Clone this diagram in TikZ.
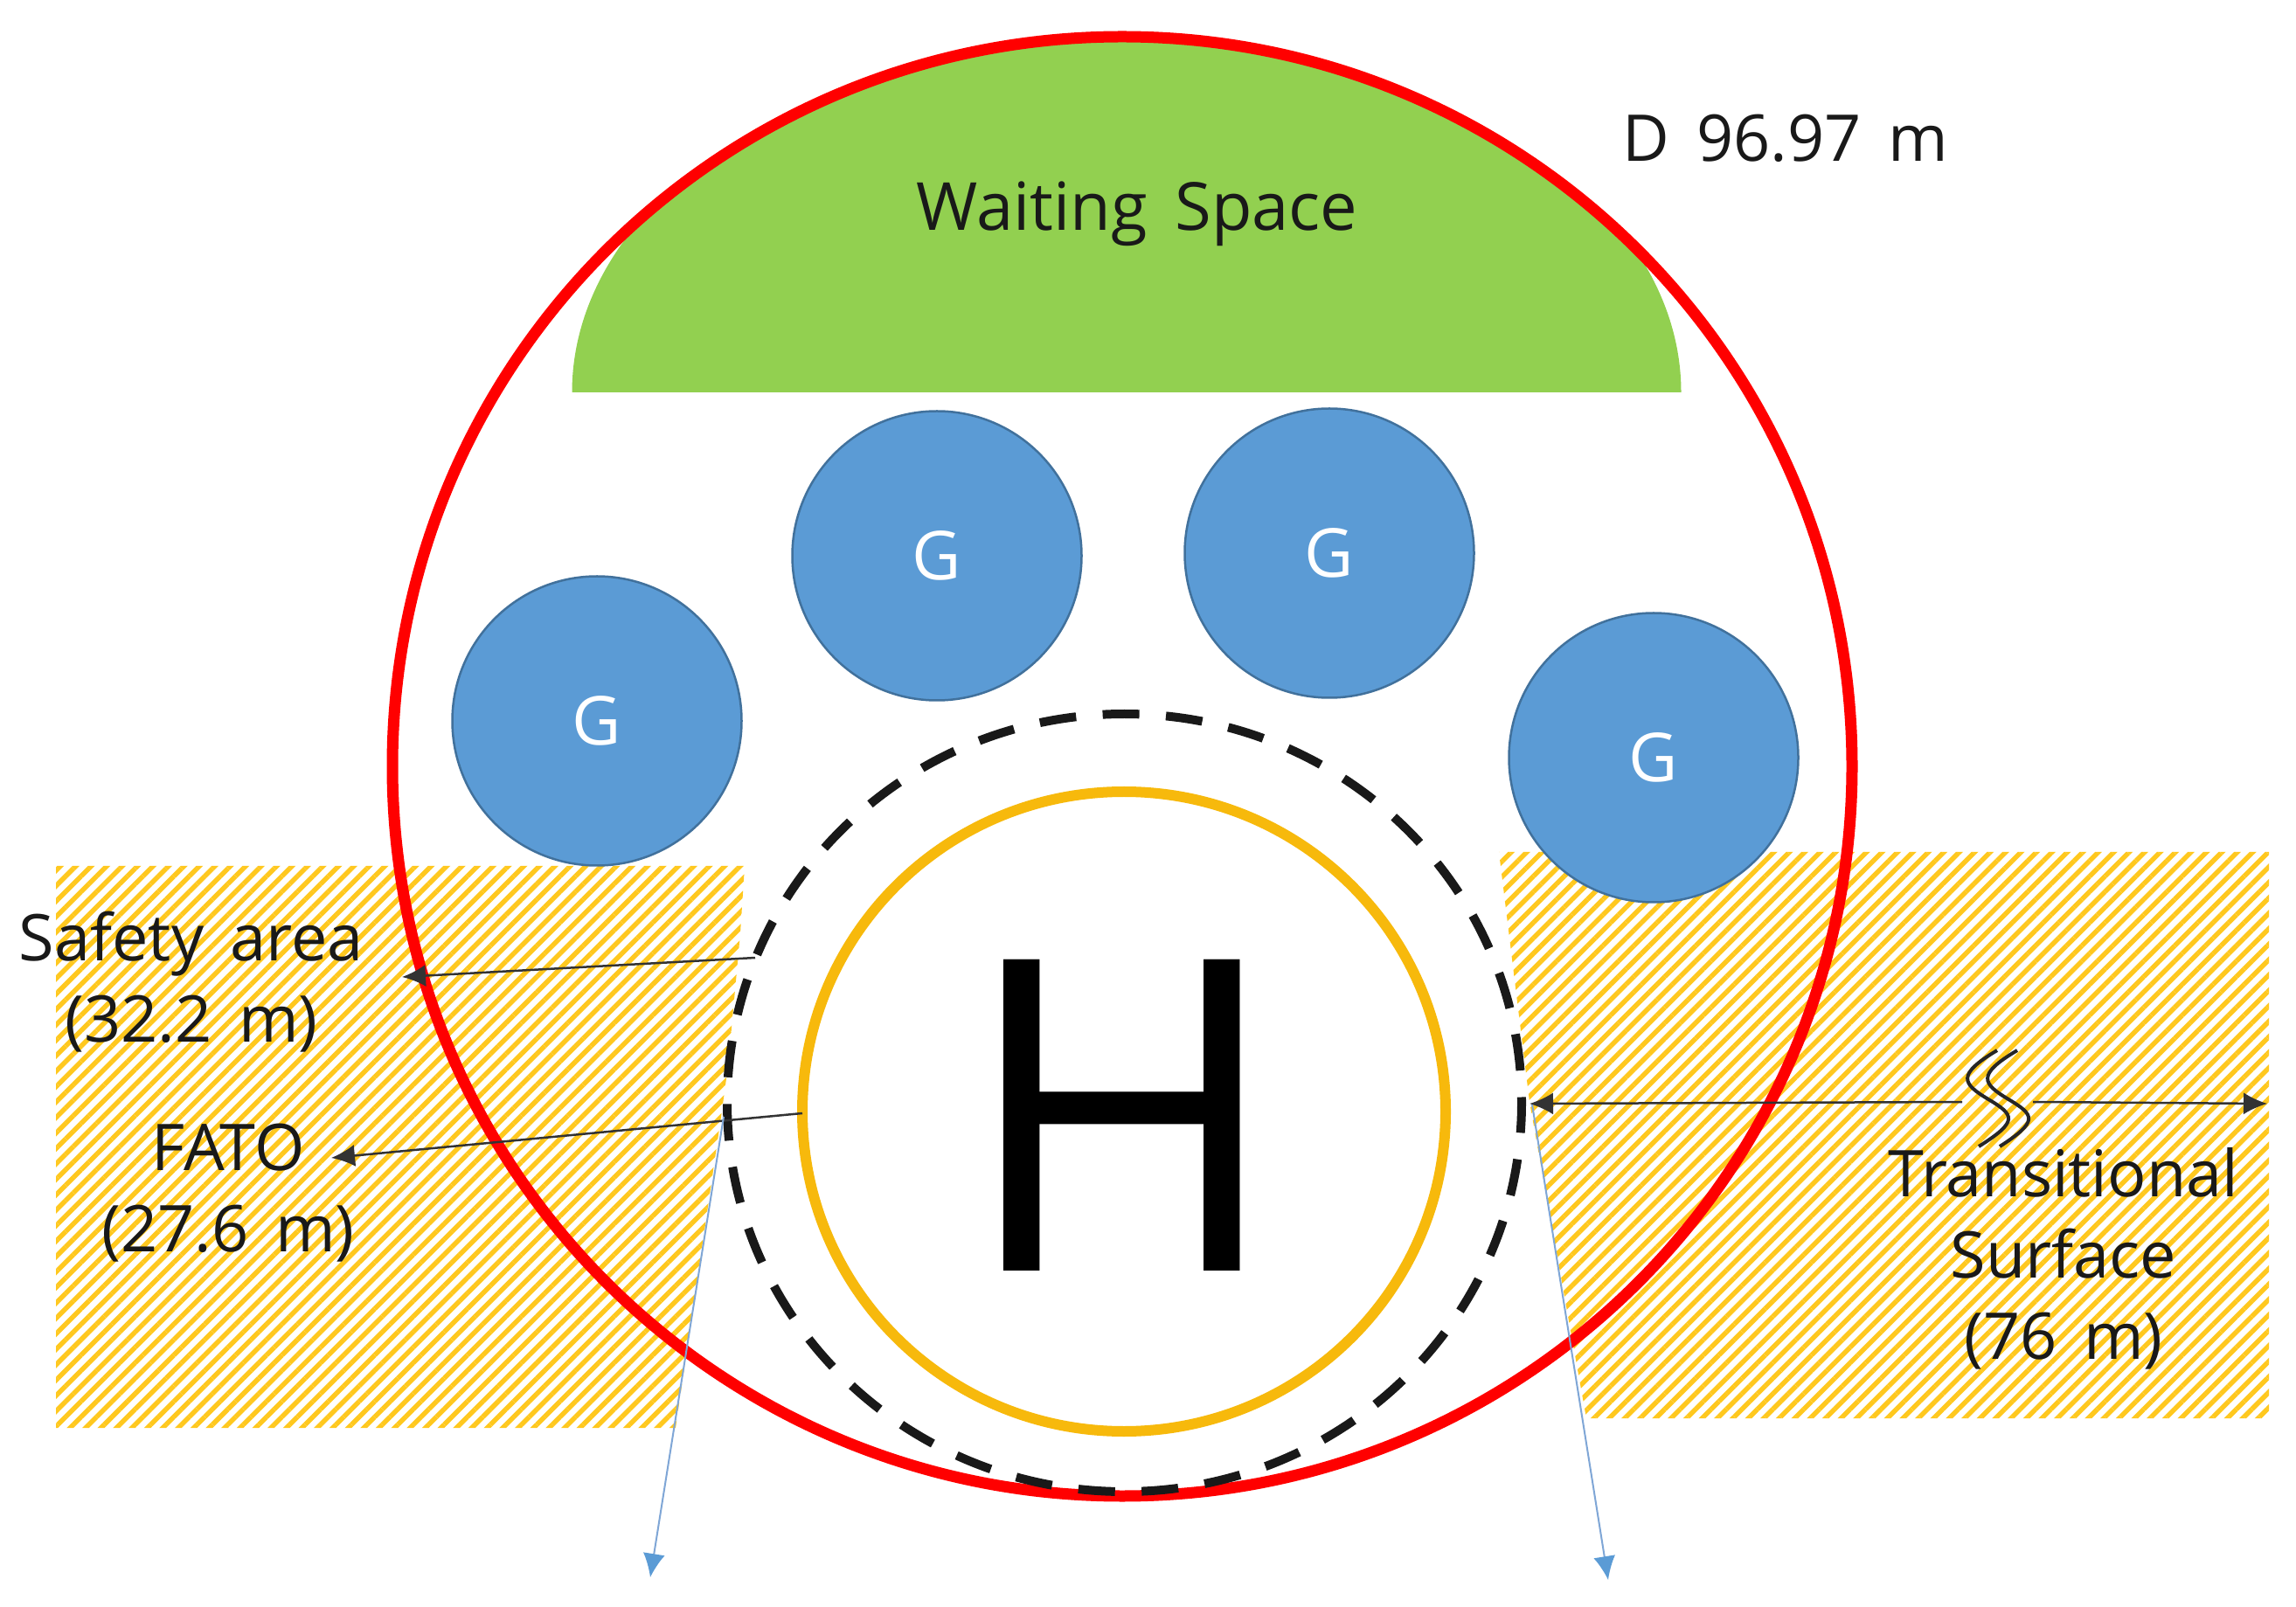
\documentclass[tikz,border=0pt]{standalone}
\usepackage{fontspec}
\setmainfont[WordSpace=1.6]{Open Sans}
\usetikzlibrary{arrows.meta,patterns.meta}
\definecolor{hatchyellow}{HTML}{FFC81E}
\definecolor{padorange}{HTML}{F7B90C}
\definecolor{gatefill}{HTML}{5B9BD5}
\definecolor{gateedge}{HTML}{41719C}
\definecolor{waitgreen}{HTML}{92D050}
\definecolor{limitblue}{HTML}{7FA6D6}
\tikzset{
	hatchzone/.style={pattern={Lines[angle=45,distance=0.125cm,line width=0.055cm]},pattern color=hatchyellow},
	gate/.style={circle,draw=gateedge,line width=0.25mm,fill=gatefill,text=white,minimum size=3.31cm,inner sep=0,font=\fontsize{22}{26}\selectfont},
	label/.style={align=center,text=black!90,font=\fontsize{21}{26.5}\selectfont},
	dimline/.style={line width=0.25mm,black!80,-{Latex[length=0.27cm,width=0.25cm]}},
	limitline/.style={line width=0.2mm,limitblue,-{Latex[length=0.27cm,width=0.25cm,color=gatefill]}}
}

\begin{document}
\begin{tikzpicture}
	%%%%% START %%%%%
	\useasboundingbox (0, 0) rectangle (26.27, 18.38);
	\fill[white] (0, 0) rectangle (26.27, 18.38);

	% hatched strips
	\fill[hatchzone] (0.64, 8.47) -- (8.52, 8.47) -- (8.47, 7.70) -- (8.33, 6.18) -- (8.25, 5.60) -- (7.73, 2.04) -- (0.64, 2.04) -- cycle;
	\fill[hatchzone] (17.15, 8.63) -- (17.50, 5.77) -- (18.15, 2.15) -- (25.96, 2.15) -- (25.96, 8.63) -- cycle;

	% waiting space
	\begin{scope}
		\clip (12.84, 9.61) circle (8.35);
		\fill[waitgreen] (6.545, 13.89) arc (180:0:6.345 and 4.10) -- cycle;
	\end{scope}

	\draw[line width=1.3mm, red] (12.84, 9.61) circle (8.35);
	\draw[line width=1mm, black!90, dash pattern=on 0.42cm off 0.305cm, dash phase=0.355cm] (12.865, 5.76) ellipse (4.545 and 4.45);
	\draw[line width=1.2mm, padorange] (12.86, 5.66) ellipse (3.68 and 3.66);

	\node[gate] (gateA) at (6.83, 10.13) {G};
	\node[gate] (gateB) at (10.72, 12.02) {G};
	\node[gate] (gateC) at (15.21, 12.05) {G};
	\node[gate] (gateD) at (18.92, 9.71) {G};

	\node[inner sep=0, font=\fontsize{142}{142}\selectfont] (pad) at (12.84, 5.62) {H};

	\node[label, font=\fontsize{21.6}{26.5}\selectfont] (waiting) at (13.01, 15.93) {Waiting Space};
	\node[label] (diam) at (20.43, 16.80) {D 96.97 m};
	\node[label] (safety) at (2.19, 7.14) {Safety area\\(32.2 m)};
	\node[label] (fato) at (2.61, 4.73) {FATO\\(27.6 m)};
	\node[label] (trans) at (23.61, 3.98) {Transitional\\Surface\\(76 m)};

	% arrows
	\coordinate (safetyS) at (8.64, 7.42);
	\coordinate (safetyE) at (4.60, 7.20);
	\coordinate (fatoS) at (9.18, 5.64);
	\coordinate (fatoE) at (3.79, 5.13);
	\coordinate (limitLS) at (8.28, 5.60);
	\coordinate (limitLE) at (7.44, 0.33);
	\coordinate (limitRS) at (17.53, 5.74);
	\coordinate (limitRE) at (18.40, 0.30);
	\coordinate (transL) at (17.50, 5.75);
	\coordinate (breakL) at (22.45, 5.77);
	\coordinate (breakR) at (23.26, 5.77);
	\coordinate (transR) at (25.94, 5.75);

	\draw[dimline] (safetyS) -- (safetyE);
	\draw[dimline] (fatoS) -- (fatoE);
	\draw[limitline] (limitLS) -- (limitLE);
	\draw[limitline] (limitRS) -- (limitRE);
	\draw[dimline] (breakL) -- (transL);
	\draw[dimline] (breakR) -- (transR);

	% break mark
	\draw[line width=0.4mm, black!85] (22.85, 6.36) .. controls (22.38, 6.08) and (22.45, 5.98) .. (22.75, 5.80) .. controls (23.05, 5.62) and (23.10, 5.55) .. (22.64, 5.26);
	\draw[line width=0.4mm, black!85] (23.08, 6.36) .. controls (22.61, 6.08) and (22.68, 5.98) .. (22.98, 5.80) .. controls (23.28, 5.62) and (23.33, 5.55) .. (22.88, 5.26);
	%%%%% END %%%%%
\end{tikzpicture}
\end{document}
